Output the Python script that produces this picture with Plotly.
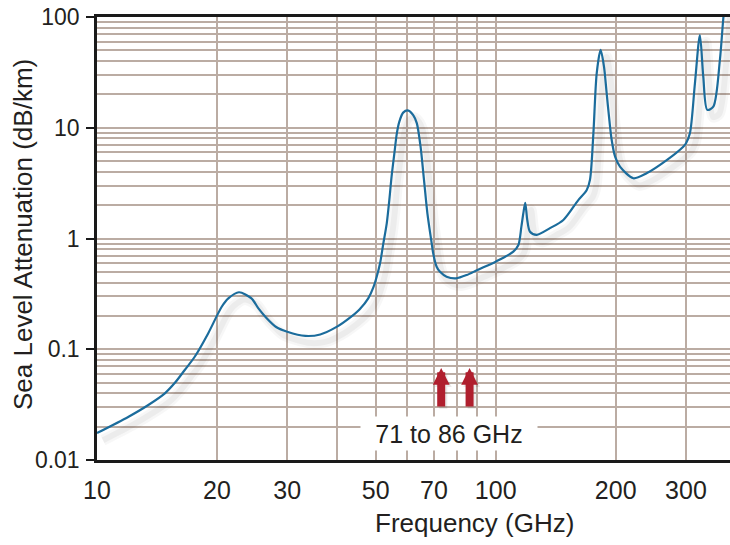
import numpy as np
import plotly.graph_objects as go

# Sea-level atmospheric attenuation
FREQ_GHZ = [10.0, 12.0, 13.45, 14.8, 15.7, 16.6, 17.6, 19.0, 20.55, 21.35, 22.7, 24.4, 25.4,
            26.5, 28.2, 30.0, 33.3, 36.3, 40.0, 43.1, 45.6, 47.9, 49.3, 50.3, 51.3, 52.2,
            53.3, 54.1, 54.8, 55.7, 56.5, 57.3, 58.6, 60.4, 62.1, 63.4, 64.8, 66.1, 67.4,
            69.1, 69.7, 71.1, 72.5, 75.3, 79.5, 84.6, 90.0, 100.0, 110.7, 114.0, 116.0,
            117.3, 118.6, 120.0, 121.9, 126.7, 136.8, 147.8, 160.8, 169.2, 172.4, 175.8,
            179.2, 183.3, 186.9, 189.8, 192.8, 195.4, 199.3, 205.0, 221.4, 239.0, 268.5,
            295.4, 300.0, 307.0, 316.0, 325.2, 331.6, 339.4, 351.4, 365.0, 372.0, 380.0]
ATTEN_DB_KM = [0.0175, 0.0246, 0.0314, 0.040, 0.050, 0.065, 0.086, 0.139, 0.242, 0.288, 0.327,
               0.288, 0.234, 0.195, 0.158, 0.144, 0.132, 0.136, 0.16, 0.193, 0.23, 0.288,
               0.36, 0.452, 0.6, 0.88, 1.37, 2.23, 3.61, 5.88, 8.9, 11.3, 13.7, 14.3, 13.0,
               11.0, 6.75, 3.37, 1.69, 0.905, 0.734, 0.556, 0.5, 0.452, 0.437, 0.468, 0.52,
               0.618, 0.76, 0.874, 1.28, 1.69, 2.1, 1.47, 1.15, 1.08, 1.24, 1.47, 2.2, 2.74,
               3.4, 8.9, 31.0, 50.4, 35.6, 20.5, 11.7, 7.75, 5.48, 4.45, 3.5, 3.88, 5.1, 6.74,
               7.2, 8.9, 25.2, 68.8, 28.9, 14.5, 15.5, 40.9, 94.0, 200.0]

X_TICKS = [10, 20, 30, 50, 70, 100, 200, 300]
X_TICK_TEXT = ["10", "20", "30", "50", "70", "100", "200", "300"]
X_MINOR = [40, 60, 80, 90]
Y_TICKS = [0.01, 0.1, 1, 10, 100]
Y_TICK_TEXT = ["0.01", "0.1", "1", "10", "100"]
Y_MINOR = [m * d for d in [0.01, 0.1, 1, 10] for m in range(2, 10)]

BAND_ARROWS_GHZ = [73, 86]
BAND_LABEL = "71 to 86 GHz"

GRID = "#bbaca3"
FONT = "Liberation Sans, Arial, sans-serif"
TXT = "#231f20"

f = np.array(FREQ_GHZ)
a = np.array(ATTEN_DB_KM)

fig = go.Figure()
# soft drop shadow (offset copy of the curve)
for w, op in [(11, 0.03), (6, 0.045)]:
    fig.add_trace(go.Scatter(x=f * 1.035, y=a / 1.16, mode="lines",
                             line=dict(color=f"rgba(0,0,0,{op})", width=w, shape="spline", smoothing=0.8),
                             hoverinfo="skip", showlegend=False))
fig.add_trace(go.Scatter(x=f, y=a, mode="lines",
                         line=dict(color="#1b6c9c", width=2.2, shape="spline", smoothing=0.8),
                         showlegend=False))

annotations = []
for fx in BAND_ARROWS_GHZ:
    annotations.append(dict(x=np.log10(fx * 1.012), y=np.log10(0.0678 / 1.05), xref="x", yref="y",
                            text="", showarrow=True, ax=0, ay=40, arrowhead=2, arrowsize=0.42,
                            arrowwidth=8, arrowcolor="rgba(0,0,0,0.08)"))
    annotations.append(dict(x=np.log10(fx), y=np.log10(0.0678), xref="x", yref="y",
                            text="", showarrow=True, ax=0, ay=40, arrowhead=2, arrowsize=0.42,
                            arrowwidth=8, arrowcolor="#b01f2e"))
annotations.append(dict(x=np.log10(76.4), y=np.log10(0.0172), xref="x", yref="y",
                        text=BAND_LABEL, showarrow=False, bgcolor="white", width=174, height=31,
                        font=dict(family=FONT, size=25, color=TXT)))
annotations.append(dict(x=0.5956, y=-0.142, xref="paper", yref="paper", text="Frequency (GHz)",
                        xanchor="center", yanchor="middle",
                        showarrow=False, font=dict(family=FONT, size=26, color=TXT)))
annotations.append(dict(x=-0.117, y=0.51, xref="paper", yref="paper",
                        text="Sea Level Attenuation (dB/km)", textangle=-90,
                        xanchor="center", yanchor="middle",
                        showarrow=False, font=dict(family=FONT, size=26, color=TXT)))

fig.update_layout(
    width=730, height=545,
    margin=dict(l=97, r=0, t=17, b=85),
    paper_bgcolor="white", plot_bgcolor="white",
    font=dict(family=FONT, size=22, color=TXT),
    annotations=annotations,
    xaxis=dict(type="log", range=[1, 1 + 633 / 398.7], tickvals=X_TICKS, ticktext=X_TICK_TEXT,
               showgrid=True, gridcolor=GRID, gridwidth=1.6,
               minor=dict(tickvals=X_MINOR, showgrid=True, gridcolor=GRID, gridwidth=1.6),
               showline=True, linecolor="#1a1a1a", linewidth=2.5, mirror=True,
               ticks="", ticklabelstandoff=6, zeroline=False,
               tickfont=dict(family=FONT, size=25, color=TXT)),
    yaxis=dict(type="log", range=[-2, 2], tickvals=Y_TICKS, ticktext=Y_TICK_TEXT,
               showgrid=True, gridcolor=GRID, gridwidth=1.6,
               minor=dict(tickvals=Y_MINOR, showgrid=True, gridcolor=GRID, gridwidth=1.6),
               showline=True, linecolor="#1a1a1a", linewidth=2.5,
               ticks="outside", ticklen=8, tickwidth=2, tickcolor="#1a1a1a", zeroline=False,
               ticklabelstandoff=2,
               tickfont=dict(family=FONT, size=23, color=TXT)),
)

fig.write_html("out.html")
